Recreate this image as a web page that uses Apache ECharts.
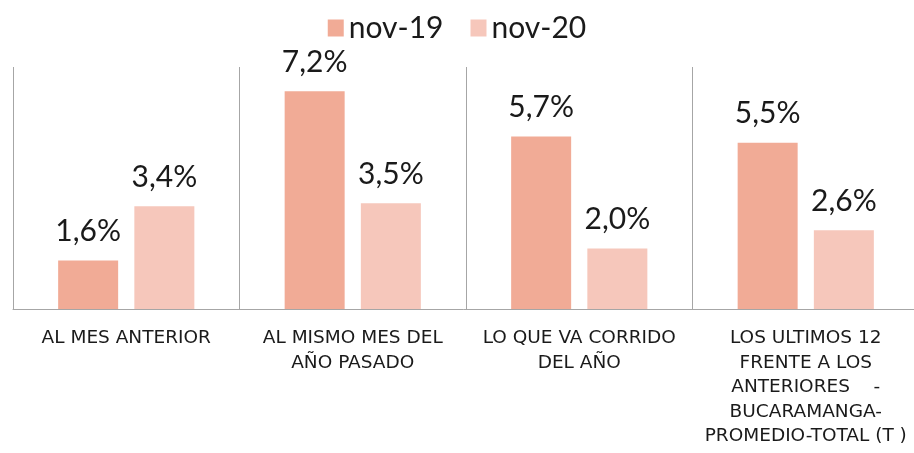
<!DOCTYPE html>
<html>
<head>
<meta charset="utf-8">
<script src="https://cdn.jsdelivr.net/npm/echarts@6/dist/echarts.min.js"></script>
<style>
  html, body { margin: 0; padding: 0; background: #fff; }
  #chart { width: 914px; height: 453px; }
</style>
</head>
<body>
<div id="chart"></div>
<script>
// categorias del eje x
const categorias = [
  'AL MES ANTERIOR',
  'AL MISMO MES DEL\nAÑO PASADO',
  'LO QUE VA CORRIDO\nDEL AÑO',
  'LOS ULTIMOS 12\nFRENTE A LOS\nANTERIORES    -\nBUCARAMANGA-\nPROMEDIO-TOTAL (T )'
];
const nov19 = [1.6, 7.2, 5.7, 5.5];
const nov20 = [3.4, 3.5, 2.0, 2.6];

const fuente = 'Lato, "DejaVu Sans", sans-serif';
const fuenteEje = '"DejaVu Sans", sans-serif';
const myChart = echarts.init(document.getElementById('chart'));

function etiqueta(p) {
  return p.value.toFixed(1).replace('.', ',') + '%';
}

const option = {
  animation: false,
  legend: {
    top: 8,
    left: 'center',
    icon: 'rect',
    itemWidth: 16,
    itemHeight: 17,
    itemGap: 27,
    textStyle: { fontFamily: fuente, fontSize: 30, color: '#1a1a1a' },
    data: ['nov-19', 'nov-20']
  },
  grid: { left: 13, width: 906, top: 67, height: 242, outerBoundsMode: 'none' },
  xAxis: {
    type: 'category',
    data: categorias,
    axisLine: { lineStyle: { color: '#a6a6a6', width: 1 } },
    axisTick: { show: false },
    splitLine: { show: true, lineStyle: { color: '#a6a6a6', width: 1 } },
    axisLabel: {
      interval: 0,
      margin: 17,
      fontFamily: fuenteEje,
      fontSize: 18.5,
      lineHeight: 24.5,
      color: '#1a1a1a'
    }
  },
  yAxis: { type: 'value', min: 0, max: 8, show: false, splitLine: { show: false } },
  series: [
    {
      name: 'nov-19',
      type: 'bar',
      data: nov19,
      barWidth: 60,
      barGap: '27%',
      itemStyle: { color: '#f1ab96' },
      label: { show: true, position: 'top', distance: 14, formatter: etiqueta,
        fontFamily: fuente, fontSize: 30, color: '#1a1a1a' }
    },
    {
      name: 'nov-20',
      type: 'bar',
      data: nov20,
      barWidth: 60,
      itemStyle: { color: '#f6c7bb' },
      label: { show: true, position: 'top', distance: 14, formatter: etiqueta,
        fontFamily: fuente, fontSize: 30, color: '#1a1a1a' }
    }
  ]
};

myChart.setOption(option);
window.addEventListener('resize', function () {
  myChart.resize();
});
</script>
</body>
</html>
